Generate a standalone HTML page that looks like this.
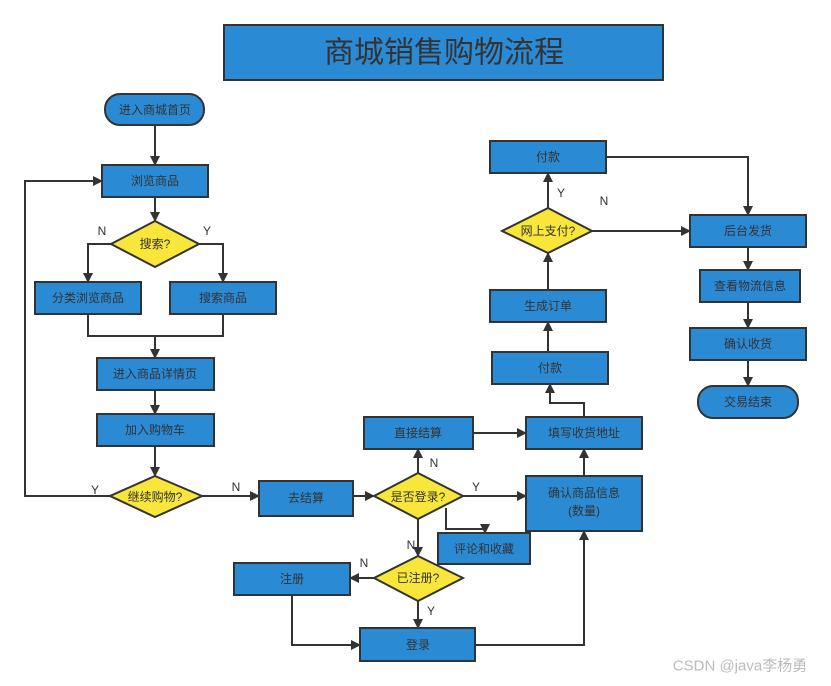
<!DOCTYPE html>
<html><head><meta charset="utf-8"><style>
html,body{margin:0;padding:0;background:#fff}
svg{display:block}
text{font-family:"Liberation Sans","Noto Sans CJK SC",sans-serif;fill:#333;font-size:12px;text-anchor:middle;dominant-baseline:central}
.b{fill:#2b8ad4;stroke:#333;stroke-width:2}
.d{fill:#f8e63a;stroke:#333;stroke-width:2}
.l{fill:none;stroke:#333;stroke-width:2}
.lab{font-size:12px}
</style></head><body>
<svg width="831" height="686" viewBox="0 0 831 686" xmlns="http://www.w3.org/2000/svg">
<defs><marker id="a" markerWidth="10" markerHeight="10" refX="9" refY="5" orient="auto" markerUnits="userSpaceOnUse"><path d="M0,0 L10,5 L0,10 z" fill="#333"/></marker></defs>

<rect class="b" x="224" y="25" width="439" height="55"/>
<text x="444" y="53" style="font-size:30px">商城销售购物流程</text>

<!-- connectors -->
<path class="l" d="M155,125 V165" marker-end="url(#a)"/>
<path class="l" d="M155,197 V221" marker-end="url(#a)"/>
<path class="l" d="M111,244 H88 V282" marker-end="url(#a)"/>
<path class="l" d="M199,244 H223 V282" marker-end="url(#a)"/>
<path class="l" d="M88,314 V336 H223 V314"/>
<path class="l" d="M155,336 V358" marker-end="url(#a)"/>
<path class="l" d="M155,390 V414" marker-end="url(#a)"/>
<path class="l" d="M155,446 V476" marker-end="url(#a)"/>
<path class="l" d="M110,496 H25 V181 H102" marker-end="url(#a)"/>
<path class="l" d="M202,496 H259" marker-end="url(#a)"/>
<path class="l" d="M353,496 H374" marker-end="url(#a)"/>
<path class="l" d="M463,496 H526" marker-end="url(#a)"/>
<path class="l" d="M418,473 V449" marker-end="url(#a)"/>
<path class="l" d="M446,508 V529 H485 V533" marker-end="url(#a)"/>
<path class="l" d="M418,519 V556" marker-end="url(#a)"/>
<path class="l" d="M374,578 H350" marker-end="url(#a)"/>
<path class="l" d="M418,601 V628" marker-end="url(#a)"/>
<path class="l" d="M292,595 V645 H360" marker-end="url(#a)"/>
<path class="l" d="M475,645 H584 V531" marker-end="url(#a)"/>
<path class="l" d="M584,476 V449" marker-end="url(#a)"/>
<path class="l" d="M473,433 H526" marker-end="url(#a)"/>
<path class="l" d="M584,417 V403 H550 V384" marker-end="url(#a)"/>
<path class="l" d="M548,352 V322" marker-end="url(#a)"/>
<path class="l" d="M548,290 V253" marker-end="url(#a)"/>
<path class="l" d="M548,208 V173" marker-end="url(#a)"/>
<path class="l" d="M592,231 H690" marker-end="url(#a)"/>
<path class="l" d="M606,157 H748 V215" marker-end="url(#a)"/>
<path class="l" d="M748,247 V270" marker-end="url(#a)"/>
<path class="l" d="M748,302 V328" marker-end="url(#a)"/>
<path class="l" d="M748,360 V386" marker-end="url(#a)"/>

<!-- nodes -->
<rect class="b" x="105" y="94" width="99" height="31" rx="15"/><text x="155" y="110">进入商城首页</text>
<rect class="b" x="102" y="165" width="106" height="32"/><text x="155" y="181">浏览商品</text>
<polygon class="d" points="155,221 199,244 155,267 111,244"/><text x="155" y="244">搜索?</text>
<rect class="b" x="35" y="282" width="106" height="32"/><text x="88" y="298">分类浏览商品</text>
<rect class="b" x="170" y="282" width="106" height="32"/><text x="223" y="298">搜索商品</text>
<rect class="b" x="97" y="358" width="117" height="32"/><text x="155" y="374">进入商品详情页</text>
<rect class="b" x="97" y="414" width="117" height="32"/><text x="155" y="430">加入购物车</text>
<polygon class="d" points="155,476 202,496 155,517 110,496"/><text x="155" y="497">继续购物?</text>
<rect class="b" x="259" y="481" width="94" height="35"/><text x="306" y="498">去结算</text>
<polygon class="d" points="418,473 463,496 418,519 374,496"/><text x="418" y="497">是否登录?</text>
<rect class="b" x="526" y="476" width="116" height="55"/><text x="584" y="493">确认商品信息</text><text x="584" y="511">(数量)</text>
<rect class="b" x="438" y="533" width="92" height="31"/><text x="484" y="549">评论和收藏</text>
<rect class="b" x="364" y="417" width="109" height="32"/><text x="418" y="433">直接结算</text>
<rect class="b" x="526" y="417" width="116" height="32"/><text x="584" y="433">填写收货地址</text>
<rect class="b" x="492" y="352" width="116" height="32"/><text x="550" y="368">付款</text>
<rect class="b" x="490" y="290" width="116" height="32"/><text x="548" y="306">生成订单</text>
<polygon class="d" points="548,208 592,231 548,253 502,231"/><text x="548" y="231">网上支付?</text>
<rect class="b" x="490" y="141" width="116" height="32"/><text x="548" y="157">付款</text>
<rect class="b" x="690" y="215" width="116" height="32"/><text x="748" y="231">后台发货</text>
<rect class="b" x="700" y="270" width="100" height="32"/><text x="750" y="286">查看物流信息</text>
<rect class="b" x="690" y="328" width="116" height="32"/><text x="748" y="344">确认收货</text>
<rect class="b" x="698" y="386" width="100" height="32" rx="15"/><text x="748" y="402">交易结束</text>
<polygon class="d" points="418,556 463,578 418,601 374,578"/><text x="418" y="578">已注册?</text>
<rect class="b" x="234" y="563" width="116" height="32"/><text x="292" y="579">注册</text>
<rect class="b" x="360" y="628" width="115" height="33"/><text x="418" y="645">登录</text>

<!-- labels -->
<text x="102" y="231">N</text><text x="207" y="231">Y</text>
<text x="95" y="490">Y</text><text x="236" y="487">N</text>
<text x="434" y="463">N</text><text x="476" y="487">Y</text>
<text x="411" y="545">N</text><text x="364" y="563">N</text><text x="431" y="611">Y</text>
<text x="561" y="193">Y</text><text x="604" y="201">N</text>
<text x="740" y="666" style="fill:#bbb;font-size:15px">CSDN @java李杨勇</text>
</svg>
</body></html>
